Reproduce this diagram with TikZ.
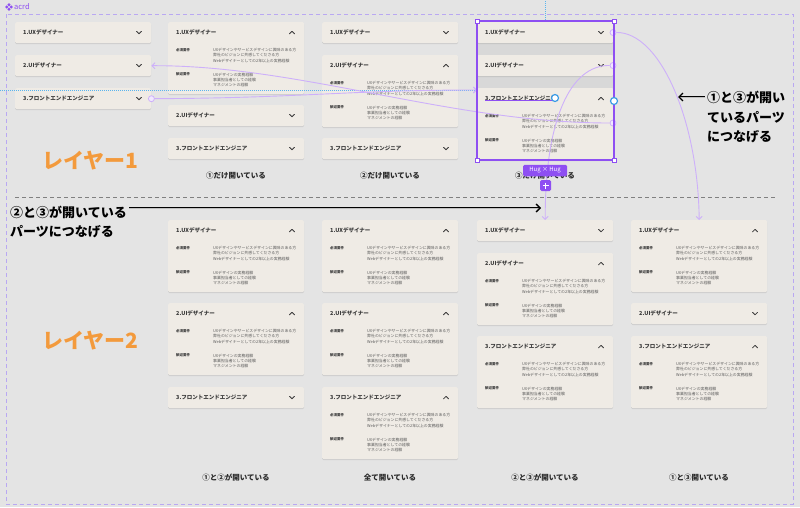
\documentclass[tikz,border=0pt]{standalone}
\usepackage{fontspec}
\setmainfont{Noto Sans CJK JP}
\usetikzlibrary{arrows.meta,shadows,calc}
\definecolor{bgc}{HTML}{E4E4E4}
\definecolor{cardc}{HTML}{EFEBE5}
\definecolor{gapc}{HTML}{D8D8D8}
\definecolor{ttlc}{HTML}{3A3A3A}
\definecolor{detc}{HTML}{5A5A5A}
\definecolor{selc}{HTML}{8E4FF2}
\definecolor{connc}{HTML}{CDB0FA}
\definecolor{dotfill}{HTML}{F1E8FF}
\definecolor{framec}{HTML}{B9A8F2}
\definecolor{bluec}{HTML}{3A9BE6}
\definecolor{bluedot}{HTML}{5AB4EE}
\definecolor{orangec}{HTML}{F39A3C}
\definecolor{capc}{HTML}{2A2A2A}
\definecolor{sepc}{HTML}{808080}

\newcommand{\ccard}[4]{%
  \node[cardbox, minimum height=21pt, anchor=north west] (#1) at (#2,#3) {};
  \node[ttl] (#1-t) at (#2+8,#3+10.5) {#4};
  \draw[chev] (#2+121.5,#3+9.3) -- (#2+124,#3+11.8) -- (#2+126.5,#3+9.3);
}
\newcommand{\ecard}[4]{%
  \node[cardbox, minimum height=72pt, anchor=north west] (#1) at (#2,#3) {};
  \node[ttl] (#1-t) at (#2+8,#3+10.5) {#4};
  \draw[chev] (#2+121.5,#3+11.8) -- (#2+124,#3+9.3) -- (#2+126.5,#3+11.8);
  \node[lbl] (#1-a) at (#2+8,#3+28) {必須要件};
  \node[det] (#1-a1) at (#2+45,#3+28) {UXデザインやサービスデザインに興味のある方};
  \node[det] (#1-a2) at (#2+45,#3+33.3) {弊社のビジョンに共感してくださる方};
  \node[det] (#1-a3) at (#2+45,#3+38.6) {Webデザイナーとしての2年以上の実務経験};
  \node[lbl] (#1-b) at (#2+8,#3+52.5) {歓迎要件};
  \node[det] (#1-b1) at (#2+45,#3+52.5) {UXデザインの実務経験};
  \node[det] (#1-b2) at (#2+45,#3+57.8) {事業担当者としての経験};
  \node[det] (#1-b3) at (#2+45,#3+63.1) {マネジメントの経験};
}

\begin{document}
\begin{tikzpicture}[x=1pt,y=-1pt,
  cardbox/.style={fill=cardc, draw=none, minimum width=136pt, inner sep=0pt, rounded corners=1.5pt,
    drop shadow={shadow xshift=0pt, shadow yshift=-1pt, fill=black, opacity=0.10}},
  ttl/.style={anchor=west, inner sep=0pt, text=ttlc, font=\bfseries\fontsize{5.5}{6.5}\selectfont},
  chev/.style={draw=ttlc, line width=0.8pt, line cap=round, line join=round},
  lbl/.style={anchor=west, inner sep=0pt, text=ttlc, font=\bfseries\fontsize{3.5}{4}\selectfont},
  det/.style={anchor=west, inner sep=0pt, text=detc, font=\fontsize{3.9}{4.5}\selectfont},
  capt/.style={inner sep=0pt, text=capc, font=\bfseries\fontsize{7.5}{9}\selectfont},
  bigtxt/.style={anchor=west, inner sep=0pt, text=black, font=\bfseries\fontsize{13}{15}\selectfont},
  layer/.style={anchor=west, inner sep=0pt, text=orangec, font=\bfseries\fontsize{21}{24}\selectfont},
  conn/.style={draw=connc, line width=0.9pt, -{Straight Barb[length=3pt,width=6pt]}},
  cdot/.style={circle, draw=connc, fill=dotfill, line width=0.8pt, minimum size=6pt, inner sep=0pt},
  bdot/.style={circle, draw=bluec, fill=white, line width=1.2pt, minimum size=7pt, inner sep=0pt},
  handle/.style={draw=selc, fill=white, line width=0.7pt, minimum size=4pt, inner sep=0pt},
  blk/.style={draw=black, line width=0.6pt, double=gray!50, double distance=0.4pt, -{Straight Barb[length=4pt,width=8pt,line width=1.3pt]}},
  framebox/.style={draw=framec, line width=0.9pt, dash pattern=on 4pt off 3pt},
  sepline/.style={draw=sepc, line width=0.9pt, dash pattern=on 4pt off 3pt},
]
\useasboundingbox (0,0) rectangle (800,507);
\fill[bgc] (0,0) rectangle (800,507);

% frame and label
\draw[framebox] (6,14) rectangle (793,504);
\foreach \dx/\dy in {0/-2.2,2.2/0,0/2.2,-2.2/0}
  \fill[selc] (9+\dx,7+\dy) +(0,-1.6) -- +(1.6,0) -- +(0,1.6) -- +(-1.6,0) -- cycle;
\node[anchor=west, inner sep=0pt, text=selc, font=\fontsize{7.5}{8}\selectfont] (acrd) at (14,6.8) {acrd};

% separator
\draw[sepline] (15,197) -- (776,197);

% ---- top section ----
\ccard{a0}{15}{22}{1.UXデザイナー}
\ccard{a1}{15}{55}{2.UIデザイナー}
\ccard{a2}{15}{88}{3.フロントエンドエンジニア}

\ecard{b0}{168}{22}{1.UXデザイナー}
\ccard{b1}{168}{105}{2.UIデザイナー}
\ccard{b2}{168}{138}{3.フロントエンドエンジニア}

\ccard{c0}{322}{22}{1.UXデザイナー}
\ecard{c1}{322}{55}{2.UIデザイナー}
\ccard{c2}{322}{138}{3.フロントエンドエンジニア}

% selected component
\fill[gapc] (477,43) rectangle (613,55);
\fill[gapc] (477,76) rectangle (613,88);
\ccard{d0}{477}{22}{1.UXデザイナー}
\ccard{d1}{477}{55}{2.UIデザイナー}
\ecard{d2}{477}{88}{3.フロントエンドエンジニア}

\node[capt] (k1) at (236,176) {①だけ開いている};
\node[capt] (k2) at (390,176) {②だけ開いている};
\node[capt] (k3) at (545,176) {③だけ開いている};

% ---- bottom section ----
\ecard{e0}{168}{220}{1.UXデザイナー}
\ecard{e1}{168}{303}{2.UIデザイナー}
\ccard{e2}{168}{387}{3.フロントエンドエンジニア}

\ecard{f0}{322}{220}{1.UXデザイナー}
\ecard{f1}{322}{303}{2.UIデザイナー}
\ecard{f2}{322}{387}{3.フロントエンドエンジニア}

\ccard{g0}{477}{220}{1.UXデザイナー}
\ecard{g1}{477}{253}{2.UIデザイナー}
\ecard{g2}{477}{336}{3.フロントエンドエンジニア}

\ecard{h0}{631}{220}{1.UXデザイナー}
\ccard{h1}{631}{303}{2.UIデザイナー}
\ecard{h2}{631}{336}{3.フロントエンドエンジニア}

\node[capt] (m1) at (236,478) {①と②が開いている};
\node[capt] (m2) at (390,478) {全て開いている};
\node[capt] (m3) at (545,478) {②と③が開いている};
\node[capt] (m4) at (699,478) {①と③開いている};

% layer labels
\node[layer] (L1) at (42,161) {レイヤー1};
\node[layer] (L2) at (42,341) {レイヤー2};

% guides
\draw[bluedot, line width=0.8pt, dash pattern=on 1pt off 1pt] (0,90) -- (477,90);
\draw[bluedot, line width=0.8pt, dash pattern=on 1pt off 1pt] (545,1) -- (545,21);

% connection points
\node[cdot] (p1) at (613,32.5) {};
\node[cdot] (p2) at (613,65.5) {};
\node[cdot] (p3) at (613,123) {};
\node[cdot] (p4) at (a2.east) {};
\coordinate (q4) at (477,90);

% connectors
\draw[conn] (p1) .. controls (660,32) and (698,120) .. (h0.north);
\draw[conn] (p2) .. controls (570,65) and (545,120) .. (g0.north);
\draw[conn] (p3) .. controls (450,123) and (300,65) .. (a1.east);
\draw[conn] (p4) .. controls (300,98) and (350,90) .. (q4);

% selection
\draw[selc, line width=1.2pt] (477,21) rectangle (614,160);
\draw[selc, line width=1pt] (485,100.8) -- (552,100.8);
\node[bdot] (u1) at (555,98) {};
\node[bdot] (u2) at (614,101) {};
\foreach \hx/\hy [count=\i] in {477/21,614/21,477/160,614/160}
  \node[handle] (hd\i) at (\hx,\hy) {};

\node[fill=selc, text=white, rounded corners=1.5pt, minimum width=44pt, minimum height=11.5pt, inner sep=0.5pt,
  font=\fontsize{6}{7}\selectfont] (hug) at (545,170.5) {Hug × Hug};
\node[fill=selc, rounded corners=1.5pt, minimum size=11pt, inner sep=0pt] (plus) at (545.5,185.5) {};
\draw[white, line width=1pt] ($(plus.center)+(-3,0)$) -- ($(plus.center)+(3,0)$);
\draw[white, line width=1pt] ($(plus.center)+(0,-3)$) -- ($(plus.center)+(0,3)$);

% annotations
\node[bigtxt] (t1) at (707,97) {①と③が開い};
\node[bigtxt] (t2) at (707,117) {ているパーツ};
\node[bigtxt] (t3) at (707,137) {につなげる};
\coordinate (ra) at (705,97);
\coordinate (rb) at (678,97);
\draw[blk] (ra) -- (rb);

\node[bigtxt] (s1) at (10,212) {②と③が開いている};
\node[bigtxt] (s2) at (10,232) {パーツにつなげる};
\coordinate (la) at (129,208);
\coordinate (lb) at (541,208);
\draw[blk] (la) -- (lb);
\end{tikzpicture}
\end{document}
